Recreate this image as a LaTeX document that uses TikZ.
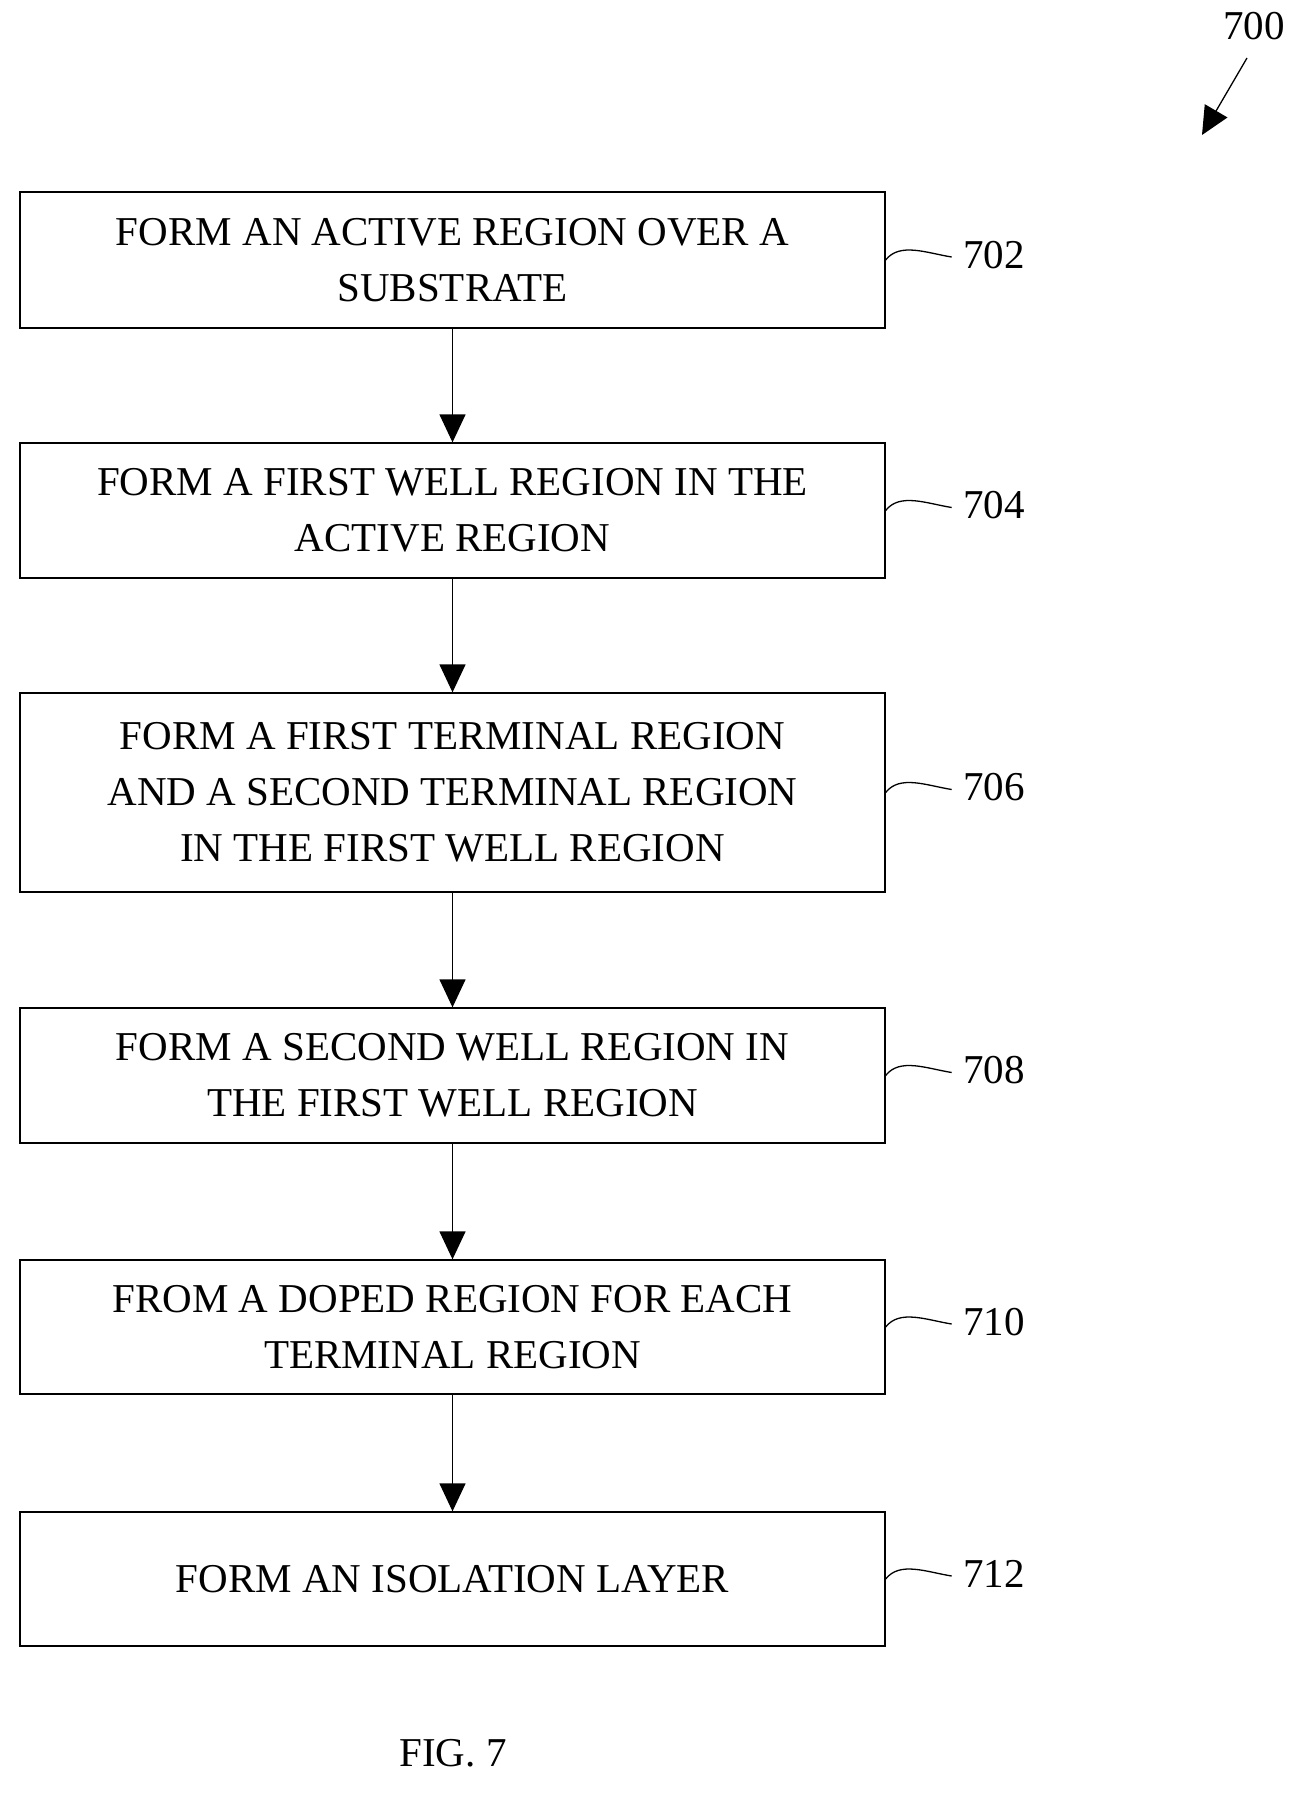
\documentclass[tikz,border=0pt]{standalone}
\usepackage{fontspec}
\setmainfont{Liberation Serif}
\usetikzlibrary{arrows.meta}
\begin{document}
\begin{tikzpicture}[x=1pt,y=-1pt,
 box/.style={draw,line width=1.3pt,minimum width=865pt,align=center,font=\fontsize{41}{56}\selectfont,inner sep=0pt},
 lab/.style={font=\fontsize{41}{48}\selectfont,anchor=west},
 arr/.style={line width=1.3pt,-{Triangle[length=28pt,width=26pt]}},
 sq/.style={line width=1.3pt}]
\useasboundingbox (0,0) rectangle (1302,1796);
\def\bx{452.5}
\node[box,minimum height=136pt] (b1) at (\bx,260) {FORM AN ACTIVE REGION OVER A\\SUBSTRATE};
\node[box,minimum height=135pt] (b2) at (\bx,510.5) {FORM A FIRST WELL REGION IN THE\\ACTIVE REGION};
\node[box,minimum height=199pt] (b3) at (\bx,792.5) {FORM A FIRST TERMINAL REGION\\AND A SECOND TERMINAL REGION\\IN THE FIRST WELL REGION};
\node[box,minimum height=135pt] (b4) at (\bx,1075.5) {FORM A SECOND WELL REGION IN\\THE FIRST WELL REGION};
\node[box,minimum height=134pt] (b5) at (\bx,1327) {FROM A DOPED REGION FOR EACH\\TERMINAL REGION};
\node[box,minimum height=134pt] (b6) at (\bx,1579) {FORM AN ISOLATION LAYER};
\foreach \a/\b in {b1/b2,b2/b3,b3/b4,b4/b5,b5/b6}{\draw[arr] (\a.south) -- (\b.north);}
\foreach \n/\t in {b1/702,b2/704,b3/706,b4/708,b5/710,b6/712}{
 \coordinate (s\t) at ([xshift=66pt,yshift=3pt]\n.east);
 \draw[sq] (\n.east) .. controls +(14,-18) and +(-25,-4) .. (s\t);
 \node[lab] (l\t) at ([xshift=8pt,yshift=2pt]s\t) {\t};}
\node[font=\fontsize{41}{48}\selectfont] (n700) at (1254,26) {700};
\coordinate (c700) at (1247,58);
\coordinate (e700) at (1202,135);
\draw[arr] (c700) -- (e700);
\node[font=\fontsize{41}{48}\selectfont] (fig) at (453,1753) {FIG. 7};
\end{tikzpicture}
\end{document}
